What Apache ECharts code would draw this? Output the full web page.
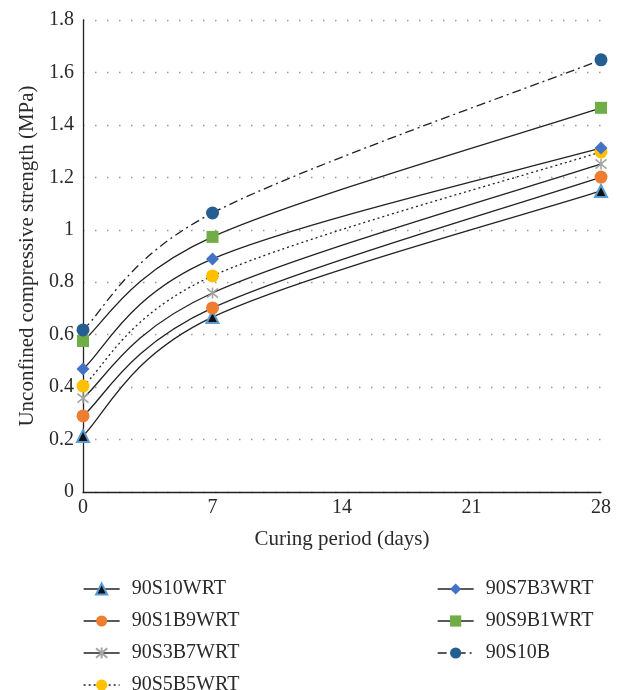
<!DOCTYPE html>
<html><head><meta charset="utf-8">
<script src="https://cdn.jsdelivr.net/npm/echarts@6/dist/echarts.min.js"></script>
<style>html,body{margin:0;padding:0;background:#fff}#c{width:619px;height:690px}</style>
</head><body><div id="c"></div>
<script>
var days = [0, 7, 28];
var xTicks = [0, 7, 14, 21, 28];
var seriesNames = ['90S10WRT','90S1B9WRT','90S3B7WRT','90S5B5WRT','90S7B3WRT','90S9B1WRT','90S10B'];
var s90S10WRT  = [0.214, 0.667, 1.148];
var s90S1B9WRT = [0.290, 0.702, 1.201];
var s90S3B7WRT = [0.358, 0.759, 1.251];
var s90S5B5WRT = [0.404, 0.824, 1.297];
var s90S7B3WRT = [0.469, 0.889, 1.312];
var s90S9B1WRT = [0.576, 0.973, 1.465];
var s90S10B    = [0.618, 1.064, 1.648];
var values = [s90S10WRT, s90S1B9WRT, s90S3B7WRT, s90S5B5WRT, s90S7B3WRT, s90S9B1WRT, s90S10B];

var font = '"Liberation Serif", "Times New Roman", serif';
var lineColor = '#222';
var textColor = '#2a2a2a';
var styles = [
  {symbol:'triangle', size:12, item:{color:'#111', borderColor:'#5B9BD5', borderWidth:2}, dash:null},
  {symbol:'circle', size:13, item:{color:'#ED7D31'}, dash:null},
  {symbol:'path://M0,0L10,10M10,0L0,10M5,-1L5,11', size:11, item:{color:'none', borderColor:'#A5A5A5', borderWidth:1.6}, dash:null},
  {symbol:'circle', size:13, item:{color:'#FFC000'}, dash:[2,3]},
  {symbol:'diamond', size:13, item:{color:'#4472C4'}, dash:null},
  {symbol:'rect', size:12, item:{color:'#70AD47'}, dash:null},
  {symbol:'circle', size:13, item:{color:'#255E91'}, dash:[9,4,2,4]}
];

// Excel-style smoothed curves drawn through the chart's own scale (api.coord)
function curveRenderer(k) {
  return function (params, api) {
    var pts = days.map(function (d, j) { return api.coord([d, values[k][j]]); });
    var n = pts.length, children = [];
    for (var i = 0; i < n - 1; i++) {
      var p0 = pts[i - 1] || pts[i], p1 = pts[i], p2 = pts[i + 1], p3 = pts[i + 2] || pts[i + 1];
      children.push({
        type: 'bezierCurve',
        shape: {
          x1: p1[0], y1: p1[1], x2: p2[0], y2: p2[1],
          cpx1: p1[0] + (p2[0] - p0[0]) / 6, cpy1: p1[1] + (p2[1] - p0[1]) / 6,
          cpx2: p2[0] - (p3[0] - p1[0]) / 6, cpy2: p2[1] - (p3[1] - p1[1]) / 6
        },
        style: {fill: null, stroke: lineColor, lineWidth: 1.3, lineDash: styles[k].dash}
      });
    }
    return {type: 'group', children: children};
  };
}

var series = [];
seriesNames.forEach(function (n, k) {
  series.push({
    type: 'custom', coordinateSystem: 'cartesian2d', silent: true,
    data: [[days[0], values[k][0]]],
    renderItem: curveRenderer(k), z: 1
  });
});
seriesNames.forEach(function (n, i) {
  var st = styles[i];
  series.push({
    name: n, type: 'line',
    data: days.map(function (d, j) { return [d, values[i][j]]; }),
    symbol: st.symbol, symbolSize: st.size, showSymbol: true,
    itemStyle: st.item,
    lineStyle: {width: 0, opacity: 0},
    z: 3 + i
  });
});

function legendData(names, offset) {
  return names.map(function (n, i) {
    var st = styles[offset + i];
    return {name: n, lineStyle: {color: lineColor, width: 1.3, opacity: 1, type: st.dash || 'solid'}};
  });
}
var legendText = {fontFamily: font, fontSize: 20, color: textColor, padding: [0, 0, 0, 7]};

var chart = echarts.init(document.getElementById('c'));
chart.setOption({
  animation: false,
  textStyle: {fontFamily: font},
  grid: {left: 83, right: 18, top: 20, bottom: 198},
  xAxis: {
    type: 'value', min: 0, max: 28, interval: 7,
    name: 'Curing period (days)', nameLocation: 'middle', nameGap: 37,
    nameTextStyle: {fontFamily: font, fontSize: 21, color: textColor},
    axisLine: {lineStyle: {color: '#222', width: 1.3}},
    axisTick: {show: false},
    axisLabel: {fontFamily: font, fontSize: 20, color: textColor, margin: 6,
      formatter: function (v) { return xTicks.indexOf(v) >= 0 ? String(v) : ''; }},
    splitLine: {show: false}
  },
  yAxis: {
    type: 'value', min: 0, max: 1.8, interval: 0.2,
    name: 'Unconfined compressive strength (MPa)', nameLocation: 'middle', nameGap: 45,
    nameTextStyle: {fontFamily: font, fontSize: 21, color: textColor},
    axisLine: {show: true, lineStyle: {color: '#222', width: 1.3}},
    axisTick: {show: false},
    axisLabel: {fontFamily: font, fontSize: 20, color: textColor, margin: 9,
      formatter: function (v) { return String(Math.round(v * 10) / 10); }},
    splitLine: {show: true, lineStyle: {color: '#999', width: 1.3, type: [1.5, 10.5]}}
  },
  legend: [
    {data: legendData(seriesNames.slice(0, 4), 0), orient: 'vertical', left: 78, top: 574, height: 125,
     itemWidth: 36, itemHeight: 14, itemGap: 12, textStyle: legendText},
    {data: legendData(seriesNames.slice(4), 4), orient: 'vertical', left: 432, top: 574, height: 125,
     itemWidth: 36, itemHeight: 14, itemGap: 12, textStyle: legendText}
  ],
  series: series
});
</script></body></html>
